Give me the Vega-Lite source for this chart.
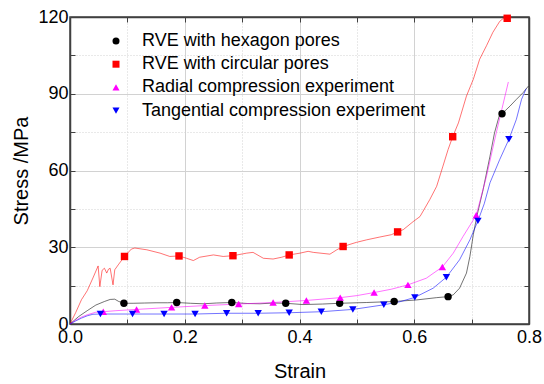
{
  "$schema": "https://vega.github.io/schema/vega-lite/v6.json",
  "width": 459,
  "height": 307,
  "autosize": {"type": "none"},
  "padding": {"left": 70, "top": 17, "right": 15, "bottom": 60},
  "background": "white",
  "config": {
    "font": "Liberation Sans",
    "view": {"stroke": "#404040", "strokeWidth": 1.5},
    "axis": {"labelFont": "Liberation Sans", "titleFont": "Liberation Sans", "labelColor": "#000", "titleColor": "#000", "titleFontWeight": "normal", "domainColor": "#404040", "domainWidth": 1.5, "tickColor": "#404040", "tickWidth": 1}
  },
  "datasets": {
    "curves": [
      {"series": "RVE with hexagon pores", "strain": 0, "stress": 0},
      {"series": "RVE with hexagon pores", "strain": 0.015, "stress": 2.9},
      {"series": "RVE with hexagon pores", "strain": 0.03, "stress": 5.2},
      {"series": "RVE with hexagon pores", "strain": 0.045, "stress": 7.4},
      {"series": "RVE with hexagon pores", "strain": 0.06, "stress": 8.8},
      {"series": "RVE with hexagon pores", "strain": 0.07, "stress": 9.6},
      {"series": "RVE with hexagon pores", "strain": 0.078, "stress": 9.7},
      {"series": "RVE with hexagon pores", "strain": 0.085, "stress": 8.8},
      {"series": "RVE with hexagon pores", "strain": 0.094, "stress": 8.1},
      {"series": "RVE with hexagon pores", "strain": 0.11, "stress": 8.1},
      {"series": "RVE with hexagon pores", "strain": 0.13, "stress": 8.2},
      {"series": "RVE with hexagon pores", "strain": 0.15, "stress": 8.3},
      {"series": "RVE with hexagon pores", "strain": 0.17, "stress": 8.3},
      {"series": "RVE with hexagon pores", "strain": 0.186, "stress": 8.4},
      {"series": "RVE with hexagon pores", "strain": 0.21, "stress": 8.1},
      {"series": "RVE with hexagon pores", "strain": 0.232, "stress": 7.9},
      {"series": "RVE with hexagon pores", "strain": 0.255, "stress": 8.2},
      {"series": "RVE with hexagon pores", "strain": 0.282, "stress": 8.4},
      {"series": "RVE with hexagon pores", "strain": 0.31, "stress": 8.0},
      {"series": "RVE with hexagon pores", "strain": 0.331, "stress": 7.9},
      {"series": "RVE with hexagon pores", "strain": 0.355, "stress": 8.2},
      {"series": "RVE with hexagon pores", "strain": 0.376, "stress": 8.1},
      {"series": "RVE with hexagon pores", "strain": 0.406, "stress": 7.6},
      {"series": "RVE with hexagon pores", "strain": 0.44, "stress": 7.8},
      {"series": "RVE with hexagon pores", "strain": 0.47, "stress": 8.1},
      {"series": "RVE with hexagon pores", "strain": 0.517, "stress": 8.4},
      {"series": "RVE with hexagon pores", "strain": 0.565, "stress": 8.8},
      {"series": "RVE with hexagon pores", "strain": 0.604, "stress": 9.4},
      {"series": "RVE with hexagon pores", "strain": 0.639, "stress": 10.3},
      {"series": "RVE with hexagon pores", "strain": 0.659, "stress": 10.7},
      {"series": "RVE with hexagon pores", "strain": 0.668, "stress": 11.4},
      {"series": "RVE with hexagon pores", "strain": 0.679, "stress": 14},
      {"series": "RVE with hexagon pores", "strain": 0.691, "stress": 19.9},
      {"series": "RVE with hexagon pores", "strain": 0.697, "stress": 26.4},
      {"series": "RVE with hexagon pores", "strain": 0.703, "stress": 35},
      {"series": "RVE with hexagon pores", "strain": 0.709, "stress": 42},
      {"series": "RVE with hexagon pores", "strain": 0.72, "stress": 52.5},
      {"series": "RVE with hexagon pores", "strain": 0.732, "stress": 65.6},
      {"series": "RVE with hexagon pores", "strain": 0.74, "stress": 74.8},
      {"series": "RVE with hexagon pores", "strain": 0.748, "stress": 81.3},
      {"series": "RVE with hexagon pores", "strain": 0.753, "stress": 82.2},
      {"series": "RVE with hexagon pores", "strain": 0.767, "stress": 85.2},
      {"series": "RVE with hexagon pores", "strain": 0.778, "stress": 87.8},
      {"series": "RVE with hexagon pores", "strain": 0.79, "stress": 90.5},
      {"series": "RVE with hexagon pores", "strain": 0.799, "stress": 93},

      {"series": "RVE with circular pores", "strain": 0, "stress": 0},
      {"series": "RVE with circular pores", "strain": 0.01, "stress": 4.5},
      {"series": "RVE with circular pores", "strain": 0.02, "stress": 9.5},
      {"series": "RVE with circular pores", "strain": 0.03, "stress": 13},
      {"series": "RVE with circular pores", "strain": 0.04, "stress": 18},
      {"series": "RVE with circular pores", "strain": 0.049, "stress": 22.7},
      {"series": "RVE with circular pores", "strain": 0.052, "stress": 14.6},
      {"series": "RVE with circular pores", "strain": 0.056, "stress": 21},
      {"series": "RVE with circular pores", "strain": 0.06, "stress": 21.8},
      {"series": "RVE with circular pores", "strain": 0.064, "stress": 19.9},
      {"series": "RVE with circular pores", "strain": 0.067, "stress": 21.4},
      {"series": "RVE with circular pores", "strain": 0.07, "stress": 21.8},
      {"series": "RVE with circular pores", "strain": 0.075, "stress": 15.3},
      {"series": "RVE with circular pores", "strain": 0.078, "stress": 21.2},
      {"series": "RVE with circular pores", "strain": 0.084, "stress": 23.1},
      {"series": "RVE with circular pores", "strain": 0.095, "stress": 26.4},
      {"series": "RVE with circular pores", "strain": 0.107, "stress": 29.3},
      {"series": "RVE with circular pores", "strain": 0.113, "stress": 29.7},
      {"series": "RVE with circular pores", "strain": 0.134, "stress": 29},
      {"series": "RVE with circular pores", "strain": 0.157, "stress": 27.7},
      {"series": "RVE with circular pores", "strain": 0.174, "stress": 26.4},
      {"series": "RVE with circular pores", "strain": 0.19, "stress": 26.6},
      {"series": "RVE with circular pores", "strain": 0.203, "stress": 25.7},
      {"series": "RVE with circular pores", "strain": 0.215, "stress": 24.8},
      {"series": "RVE with circular pores", "strain": 0.226, "stress": 26.1},
      {"series": "RVE with circular pores", "strain": 0.25, "stress": 27},
      {"series": "RVE with circular pores", "strain": 0.267, "stress": 26.4},
      {"series": "RVE with circular pores", "strain": 0.284, "stress": 26.7},
      {"series": "RVE with circular pores", "strain": 0.308, "stress": 27.7},
      {"series": "RVE with circular pores", "strain": 0.319, "stress": 28},
      {"series": "RVE with circular pores", "strain": 0.337, "stress": 25.7},
      {"series": "RVE with circular pores", "strain": 0.354, "stress": 25.4},
      {"series": "RVE with circular pores", "strain": 0.369, "stress": 26.1},
      {"series": "RVE with circular pores", "strain": 0.382, "stress": 27},
      {"series": "RVE with circular pores", "strain": 0.401, "stress": 27.7},
      {"series": "RVE with circular pores", "strain": 0.415, "stress": 28.4},
      {"series": "RVE with circular pores", "strain": 0.424, "stress": 28},
      {"series": "RVE with circular pores", "strain": 0.453, "stress": 27.3},
      {"series": "RVE with circular pores", "strain": 0.465, "stress": 29},
      {"series": "RVE with circular pores", "strain": 0.476, "stress": 30.3},
      {"series": "RVE with circular pores", "strain": 0.499, "stress": 31.9},
      {"series": "RVE with circular pores", "strain": 0.517, "stress": 32.9},
      {"series": "RVE with circular pores", "strain": 0.54, "stress": 34},
      {"series": "RVE with circular pores", "strain": 0.56, "stress": 34.9},
      {"series": "RVE with circular pores", "strain": 0.571, "stress": 36},
      {"series": "RVE with circular pores", "strain": 0.581, "stress": 36.9},
      {"series": "RVE with circular pores", "strain": 0.598, "stress": 40},
      {"series": "RVE with circular pores", "strain": 0.61, "stress": 42},
      {"series": "RVE with circular pores", "strain": 0.627, "stress": 48.6},
      {"series": "RVE with circular pores", "strain": 0.639, "stress": 53.8},
      {"series": "RVE with circular pores", "strain": 0.65, "stress": 61.7},
      {"series": "RVE with circular pores", "strain": 0.659, "stress": 68.2},
      {"series": "RVE with circular pores", "strain": 0.667, "stress": 73.2},
      {"series": "RVE with circular pores", "strain": 0.677, "stress": 78.6},
      {"series": "RVE with circular pores", "strain": 0.691, "stress": 89.1},
      {"series": "RVE with circular pores", "strain": 0.703, "stress": 95.7},
      {"series": "RVE with circular pores", "strain": 0.714, "stress": 103.5},
      {"series": "RVE with circular pores", "strain": 0.726, "stress": 108.8},
      {"series": "RVE with circular pores", "strain": 0.737, "stress": 114},
      {"series": "RVE with circular pores", "strain": 0.749, "stress": 118.3},
      {"series": "RVE with circular pores", "strain": 0.757, "stress": 119.8},
      {"series": "RVE with circular pores", "strain": 0.77, "stress": 119.8},

      {"series": "Radial compression experiment", "strain": 0, "stress": 0},
      {"series": "Radial compression experiment", "strain": 0.01, "stress": 1.5},
      {"series": "Radial compression experiment", "strain": 0.02, "stress": 2.7},
      {"series": "Radial compression experiment", "strain": 0.03, "stress": 3.6},
      {"series": "Radial compression experiment", "strain": 0.045, "stress": 4.6},
      {"series": "Radial compression experiment", "strain": 0.058, "stress": 4.8},
      {"series": "Radial compression experiment", "strain": 0.08, "stress": 5.2},
      {"series": "Radial compression experiment", "strain": 0.116, "stress": 5.7},
      {"series": "Radial compression experiment", "strain": 0.177, "stress": 6.5},
      {"series": "Radial compression experiment", "strain": 0.235, "stress": 7.2},
      {"series": "Radial compression experiment", "strain": 0.294, "stress": 7.8},
      {"series": "Radial compression experiment", "strain": 0.354, "stress": 8.4},
      {"series": "Radial compression experiment", "strain": 0.412, "stress": 9.2},
      {"series": "Radial compression experiment", "strain": 0.471, "stress": 10.3},
      {"series": "Radial compression experiment", "strain": 0.5, "stress": 11.1},
      {"series": "Radial compression experiment", "strain": 0.53, "stress": 12.3},
      {"series": "Radial compression experiment", "strain": 0.56, "stress": 13.6},
      {"series": "Radial compression experiment", "strain": 0.589, "stress": 15.3},
      {"series": "Radial compression experiment", "strain": 0.621, "stress": 17.9},
      {"series": "Radial compression experiment", "strain": 0.649, "stress": 22.3},
      {"series": "Radial compression experiment", "strain": 0.668, "stress": 27.7},
      {"series": "Radial compression experiment", "strain": 0.685, "stress": 34.2},
      {"series": "Radial compression experiment", "strain": 0.708, "stress": 42.5},
      {"series": "Radial compression experiment", "strain": 0.726, "stress": 57.8},
      {"series": "Radial compression experiment", "strain": 0.743, "stress": 74.8},
      {"series": "Radial compression experiment", "strain": 0.764, "stress": 94.6},

      {"series": "Tangential compression experiment", "strain": 0, "stress": 0},
      {"series": "Tangential compression experiment", "strain": 0.01, "stress": 1.2},
      {"series": "Tangential compression experiment", "strain": 0.02, "stress": 2.3},
      {"series": "Tangential compression experiment", "strain": 0.03, "stress": 3.2},
      {"series": "Tangential compression experiment", "strain": 0.04, "stress": 3.8},
      {"series": "Tangential compression experiment", "strain": 0.053, "stress": 3.9},
      {"series": "Tangential compression experiment", "strain": 0.109, "stress": 3.9},
      {"series": "Tangential compression experiment", "strain": 0.164, "stress": 3.9},
      {"series": "Tangential compression experiment", "strain": 0.218, "stress": 3.9},
      {"series": "Tangential compression experiment", "strain": 0.273, "stress": 4.2},
      {"series": "Tangential compression experiment", "strain": 0.328, "stress": 4.2},
      {"series": "Tangential compression experiment", "strain": 0.382, "stress": 4.4},
      {"series": "Tangential compression experiment", "strain": 0.438, "stress": 4.8},
      {"series": "Tangential compression experiment", "strain": 0.493, "stress": 5.7},
      {"series": "Tangential compression experiment", "strain": 0.547, "stress": 7.5},
      {"series": "Tangential compression experiment", "strain": 0.575, "stress": 8.7},
      {"series": "Tangential compression experiment", "strain": 0.601, "stress": 10.4},
      {"series": "Tangential compression experiment", "strain": 0.633, "stress": 14},
      {"series": "Tangential compression experiment", "strain": 0.656, "stress": 18.3},
      {"series": "Tangential compression experiment", "strain": 0.679, "stress": 25.1},
      {"series": "Tangential compression experiment", "strain": 0.697, "stress": 32.9},
      {"series": "Tangential compression experiment", "strain": 0.711, "stress": 40.3},
      {"series": "Tangential compression experiment", "strain": 0.722, "stress": 47},
      {"series": "Tangential compression experiment", "strain": 0.732, "stress": 55.2},
      {"series": "Tangential compression experiment", "strain": 0.749, "stress": 64.3},
      {"series": "Tangential compression experiment", "strain": 0.765, "stress": 72.2},
      {"series": "Tangential compression experiment", "strain": 0.778, "stress": 80},
      {"series": "Tangential compression experiment", "strain": 0.787, "stress": 87.8},
      {"series": "Tangential compression experiment", "strain": 0.795, "stress": 92}
    ],
    "markers": [
      {"series": "RVE with hexagon pores", "strain": 0.094, "stress": 8.1},
      {"series": "RVE with hexagon pores", "strain": 0.186, "stress": 8.4},
      {"series": "RVE with hexagon pores", "strain": 0.282, "stress": 8.4},
      {"series": "RVE with hexagon pores", "strain": 0.376, "stress": 8.1},
      {"series": "RVE with hexagon pores", "strain": 0.47, "stress": 8.1},
      {"series": "RVE with hexagon pores", "strain": 0.565, "stress": 8.8},
      {"series": "RVE with hexagon pores", "strain": 0.659, "stress": 10.7},
      {"series": "RVE with hexagon pores", "strain": 0.753, "stress": 82.2},
      {"series": "RVE with circular pores", "strain": 0.095, "stress": 26.4},
      {"series": "RVE with circular pores", "strain": 0.19, "stress": 26.6},
      {"series": "RVE with circular pores", "strain": 0.284, "stress": 26.7},
      {"series": "RVE with circular pores", "strain": 0.382, "stress": 27},
      {"series": "RVE with circular pores", "strain": 0.476, "stress": 30.3},
      {"series": "RVE with circular pores", "strain": 0.571, "stress": 36},
      {"series": "RVE with circular pores", "strain": 0.667, "stress": 73.2},
      {"series": "RVE with circular pores", "strain": 0.762, "stress": 119.5},
      {"series": "Radial compression experiment", "strain": 0.058, "stress": 4.8},
      {"series": "Radial compression experiment", "strain": 0.116, "stress": 5.7},
      {"series": "Radial compression experiment", "strain": 0.177, "stress": 6.5},
      {"series": "Radial compression experiment", "strain": 0.235, "stress": 7.2},
      {"series": "Radial compression experiment", "strain": 0.294, "stress": 7.8},
      {"series": "Radial compression experiment", "strain": 0.354, "stress": 8.4},
      {"series": "Radial compression experiment", "strain": 0.412, "stress": 9.2},
      {"series": "Radial compression experiment", "strain": 0.471, "stress": 10.3},
      {"series": "Radial compression experiment", "strain": 0.53, "stress": 12.3},
      {"series": "Radial compression experiment", "strain": 0.589, "stress": 15.3},
      {"series": "Radial compression experiment", "strain": 0.649, "stress": 22.3},
      {"series": "Radial compression experiment", "strain": 0.708, "stress": 42.5},
      {"series": "Tangential compression experiment", "strain": 0.053, "stress": 3.9},
      {"series": "Tangential compression experiment", "strain": 0.109, "stress": 3.9},
      {"series": "Tangential compression experiment", "strain": 0.164, "stress": 3.9},
      {"series": "Tangential compression experiment", "strain": 0.218, "stress": 3.9},
      {"series": "Tangential compression experiment", "strain": 0.273, "stress": 4.2},
      {"series": "Tangential compression experiment", "strain": 0.328, "stress": 4.2},
      {"series": "Tangential compression experiment", "strain": 0.382, "stress": 4.4},
      {"series": "Tangential compression experiment", "strain": 0.438, "stress": 4.8},
      {"series": "Tangential compression experiment", "strain": 0.493, "stress": 5.7},
      {"series": "Tangential compression experiment", "strain": 0.547, "stress": 7.5},
      {"series": "Tangential compression experiment", "strain": 0.601, "stress": 10.4},
      {"series": "Tangential compression experiment", "strain": 0.656, "stress": 18.3},
      {"series": "Tangential compression experiment", "strain": 0.711, "stress": 40.3},
      {"series": "Tangential compression experiment", "strain": 0.765, "stress": 72.2}
    ]
  },
  "layer": [
    {
      "data": {"name": "curves"},
      "mark": {"type": "line", "strokeWidth": 1, "opacity": 0.55},
      "encoding": {
        "x": {
          "field": "strain", "type": "quantitative",
          "scale": {"domain": [0, 0.8], "nice": false, "zero": false},
          "axis": {
            "orient": "bottom",
            "values": [0, 0.1, 0.2, 0.3, 0.4, 0.5, 0.6, 0.7, 0.8],
            "format": ".1f",
            "labelExpr": "round(datum.value*10) % 2 == 0 ? datum.label : ''",
            "labelFontSize": 18, "labelFlush": false, "labelOverlap": false, "labelPadding": 9,
            "tickSize": -5,
            "grid": true, "gridColor": "#d2d2d2", "gridWidth": 1,
            "gridDash": {"condition": {"test": "round(datum.value*10) % 2 == 1", "value": [1, 2]}, "value": []},
            "title": "Strain", "titleFontSize": 20, "titleY": 53, "titleBaseline": "alphabetic"
          }
        },
        "y": {
          "field": "stress", "type": "quantitative",
          "scale": {"domain": [0, 120], "nice": false},
          "axis": {
            "orient": "left",
            "values": [0, 15, 30, 45, 60, 75, 90, 105, 120],
            "labelExpr": "datum.value % 30 == 0 ? datum.label : ''",
            "labelFontSize": 18, "labelFlush": false, "labelOverlap": false, "labelPadding": 7,
            "tickSize": -5,
            "grid": true, "gridColor": "#d2d2d2", "gridWidth": 1,
            "gridDash": {"condition": {"test": "datum.value % 30 != 0", "value": [1, 2]}, "value": []},
            "title": "Stress /MPa", "titleFontSize": 20, "titleX": -43, "titleBaseline": "alphabetic"
          }
        },
        "stroke": {
          "field": "series", "type": "nominal",
          "scale": {"range": ["#ff0000", "#000000", "#ff00ff", "#0000ff"]},
          "legend": null
        }
      }
    },
    {
      "data": {"name": "markers"},
      "mark": {"type": "point", "filled": true, "opacity": 1, "size": 55},
      "encoding": {
        "x": {
          "field": "strain", "type": "quantitative",
          "scale": {"domain": [0, 0.8], "nice": false, "zero": false},
          "axis": {
            "orient": "top", "values": [0, 0.1, 0.2, 0.3, 0.4, 0.5, 0.6, 0.7, 0.8],
            "labels": false, "grid": false, "title": null, "tickSize": -5
          }
        },
        "y": {
          "field": "stress", "type": "quantitative",
          "scale": {"domain": [0, 120], "nice": false},
          "axis": {
            "orient": "right", "values": [0, 15, 30, 45, 60, 75, 90, 105, 120],
            "labels": false, "grid": false, "title": null, "tickSize": -5
          }
        },
        "color": {
          "field": "series", "type": "nominal",
          "scale": {
            "domain": ["RVE with hexagon pores", "RVE with circular pores", "Radial compression experiment", "Tangential compression experiment"],
            "range": ["#000000", "#ff0000", "#ff00ff", "#0000ff"]
          },
          "legend": {
            "orient": "none", "legendX": 37, "legendY": 15, "title": null, "padding": 0,
            "labelFontSize": 18, "labelFont": "Liberation Sans", "labelColor": "#000", "labelOffset": 17, "labelLimit": 0,
            "symbolSize": 49, "rowPadding": 5.2, "symbolStrokeWidth": 1
          }
        },
        "shape": {
          "field": "series", "type": "nominal",
          "scale": {
            "domain": ["RVE with hexagon pores", "RVE with circular pores", "Radial compression experiment", "Tangential compression experiment"],
            "range": ["circle", "square", "triangle-up", "triangle-down"]
          }
        }
      }
    }
  ],
  "resolve": {"axis": {"x": "independent", "y": "independent"}}
}
